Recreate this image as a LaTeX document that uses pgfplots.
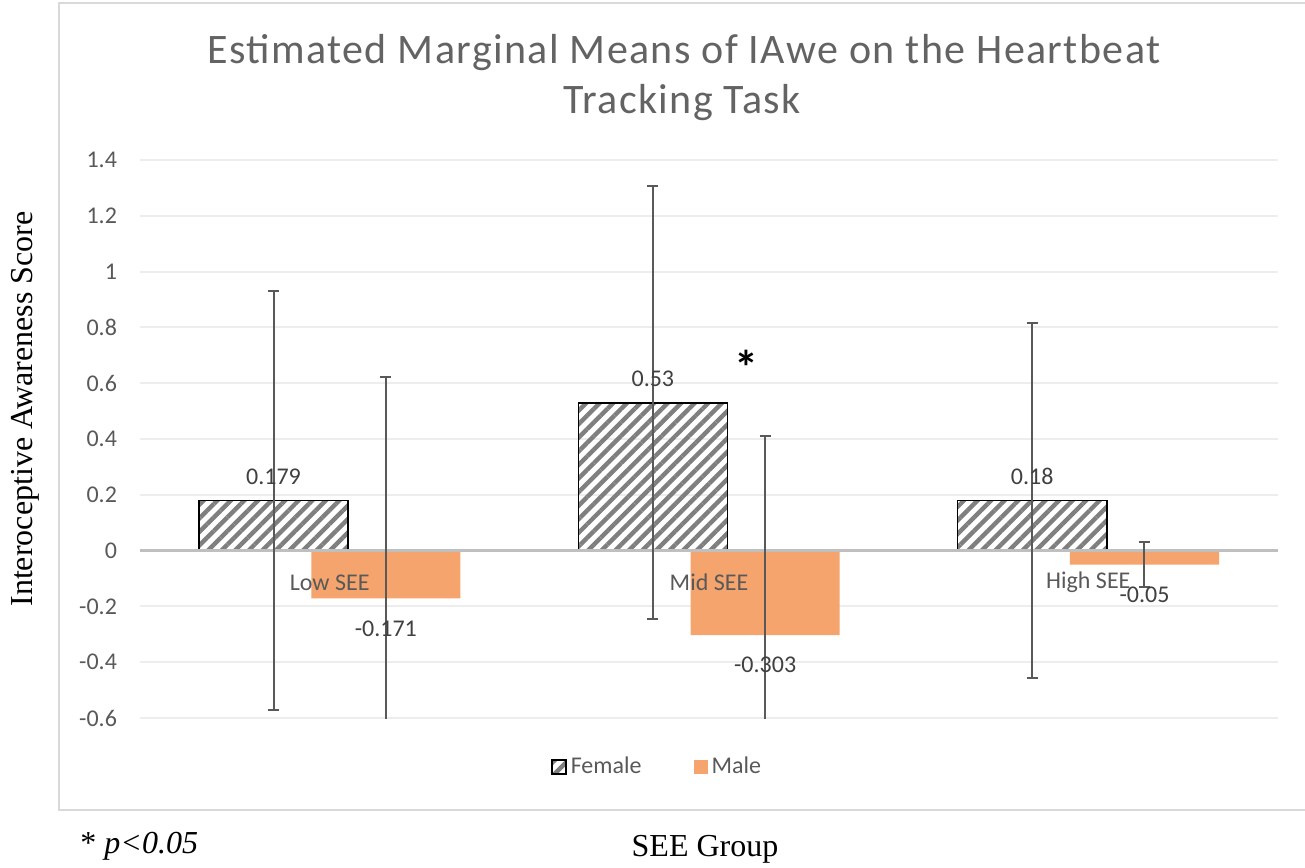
\documentclass[border=0pt]{standalone}
\usepackage{pgfplots}
\pgfplotsset{compat=1.18}
\usepackage{pgfplotstable}
\usetikzlibrary{patterns.meta}
\usepackage{fontspec}
\setmainfont{Carlito}
\newfontfamily\titlefont{Carlito}[LetterSpace=3.3]
\newfontfamily\timesfont{Liberation Serif}
\definecolor{malec}{HTML}{F4A46C}
\definecolor{hatchc}{HTML}{7F7F7F}
\definecolor{errc}{HTML}{595959}
\definecolor{txtc}{HTML}{595959}
\definecolor{titlec}{HTML}{636363}
\definecolor{lblc}{HTML}{404040}
\definecolor{gridc}{HTML}{EDEDED}
\definecolor{zeroc}{HTML}{BFBFBF}
\definecolor{framec}{HTML}{D9D9D9}

\pgfplotstableread{
x y err lab
0 0.179 0.750 0.179
1 0.530 0.776 0.53
2 0.180 0.636 0.18
}\female
\pgfplotstableread{
x y err lab
0 -0.171 0.795 -0.171
1 -0.303 0.712 -0.303
2 -0.050 0.080 -0.05
}\male

\begin{document}
\begin{tikzpicture}
\useasboundingbox (0pt,0pt) rectangle (652.5pt,-433.5pt);
% outer chart frame (right side runs off the picture)
\draw[framec, line width=1pt] (653pt,-1.5pt) -- (29.5pt,-1.5pt) -- (29.5pt,-405pt) -- (653pt,-405pt);
% title
\node[anchor=base, text=titlec, font=\titlefont\fontsize{21}{25}\selectfont] at (342pt,-31.5pt) {Estimated Marginal Means of IAwe on the Heartbeat};
\node[anchor=base, text=titlec, font=\titlefont\fontsize{21}{25}\selectfont] at (341pt,-56.5pt) {Tracking Task};
% outside labels
\node[rotate=90, font=\timesfont\fontsize{16}{19}\selectfont] at (12.5pt,-204.5pt) {Interoceptive Awareness Score};
\node[anchor=base, font=\timesfont\fontsize{16}{19}\selectfont] at (352.5pt,-428pt) {SEE Group};
\node[anchor=base west, inner sep=0pt, font=\timesfont\fontsize{16}{19}\selectfont] at (40pt,-426.5pt) {* \textit{p<0.05}};

\begin{axis}[
  at={(70pt,-359pt)}, anchor=south west,
  width=569pt, height=279pt, scale only axis,
  xmin=-0.5, xmax=2.5, ymin=-0.6, ymax=1.4,
  axis line style={draw=none},
  major tick length=0pt,
  xtick=\empty,
  ytick={-0.6,-0.4,-0.2,0,0.2,0.4,0.6,0.8,1,1.2,1.4},
  yticklabels={-0.6,-0.4,-0.2,0,0.2,0.4,0.6,0.8,1,1.2,1.4},
  yticklabel style={text=txtc, font=\fontsize{12}{14}\selectfont, xshift=-8pt},
  ymajorgrids, grid style={gridc, line width=1pt},
  legend columns=2,
  legend style={at={(0.361,-0.0878)}, anchor=west, draw=none, fill=none,
    inner sep=0pt, font=\fontsize{12}{14}\selectfont, text=txtc,
    /tikz/every even column/.append style={column sep=24pt}},
]
\addplot[ybar, bar width=0.393, bar shift=-0.148, draw=black, line width=0.8pt,
  pattern={Lines[angle=45,distance=4.8pt,line width=2.2pt]}, pattern color=hatchc,
  legend image code/.code={\draw[draw=black, line width=0.8pt, pattern={Lines[angle=45,distance=4.8pt,line width=2.2pt]}, pattern color=hatchc] (0pt,-3.5pt) rectangle (7pt,3.5pt);}]
  table[x=x, y=y] {\female};
\addlegendentry{Female}
\addplot[ybar, bar width=0.393, bar shift=0.148, draw=none, fill=malec,
  legend image code/.code={\fill[malec] (0pt,-3.5pt) rectangle (7pt,3.5pt);}]
  table[x=x, y=y] {\male};
\addlegendentry{Male}
% data labels
\addplot[draw=none, mark=none, forget plot,
  nodes near coords, point meta=explicit symbolic,
  every node near coord/.style={anchor=center, yshift=12pt, text=lblc, font=\fontsize{12}{14}\selectfont}]
  table[x expr=\thisrow{x}-0.148, y=y, meta=lab] {\female};
\addplot[draw=none, mark=none, forget plot,
  nodes near coords, point meta=explicit symbolic,
  every node near coord/.style={anchor=center, yshift=-15pt, text=lblc, font=\fontsize{12}{14}\selectfont}]
  table[x expr=\thisrow{x}+0.148, y=y, meta=lab] {\male};
\draw[zeroc, line width=1.5pt] (axis cs:-0.5,0) -- (axis cs:2.5,0);
\node[text=txtc, font=\fontsize{12}{14}\selectfont, yshift=-16pt] at (axis cs:0,0) {Low SEE};
\node[text=txtc, font=\fontsize{12}{14}\selectfont, yshift=-16pt] at (axis cs:1,0) {Mid SEE};
\node[text=txtc, font=\fontsize{12}{14}\selectfont, yshift=-16pt] at (axis cs:2,0) {High SEE};
% error bars (shifted with their bars)
\addplot[draw=none, mark=none, forget plot,
  error bars/.cd, y dir=both, y explicit,
  error bar style={draw=errc, line width=1pt},
  error mark options={rotate=90, mark size=2.75pt, draw=errc, line width=1pt}]
  table[x expr=\thisrow{x}-0.148, y=y, y error=err] {\female};
\addplot[draw=none, mark=none, forget plot,
  error bars/.cd, y dir=both, y explicit,
  error bar style={draw=errc, line width=1pt},
  error mark options={rotate=90, mark size=2.75pt, draw=errc, line width=1pt}]
  table[x expr=\thisrow{x}+0.148, y=y, y error=err] {\male};
\node[anchor=base, font=\bfseries\fontsize{24}{28}\selectfont] at (axis cs:1.1,0.597) {*};
\end{axis}
\end{tikzpicture}
\end{document}
